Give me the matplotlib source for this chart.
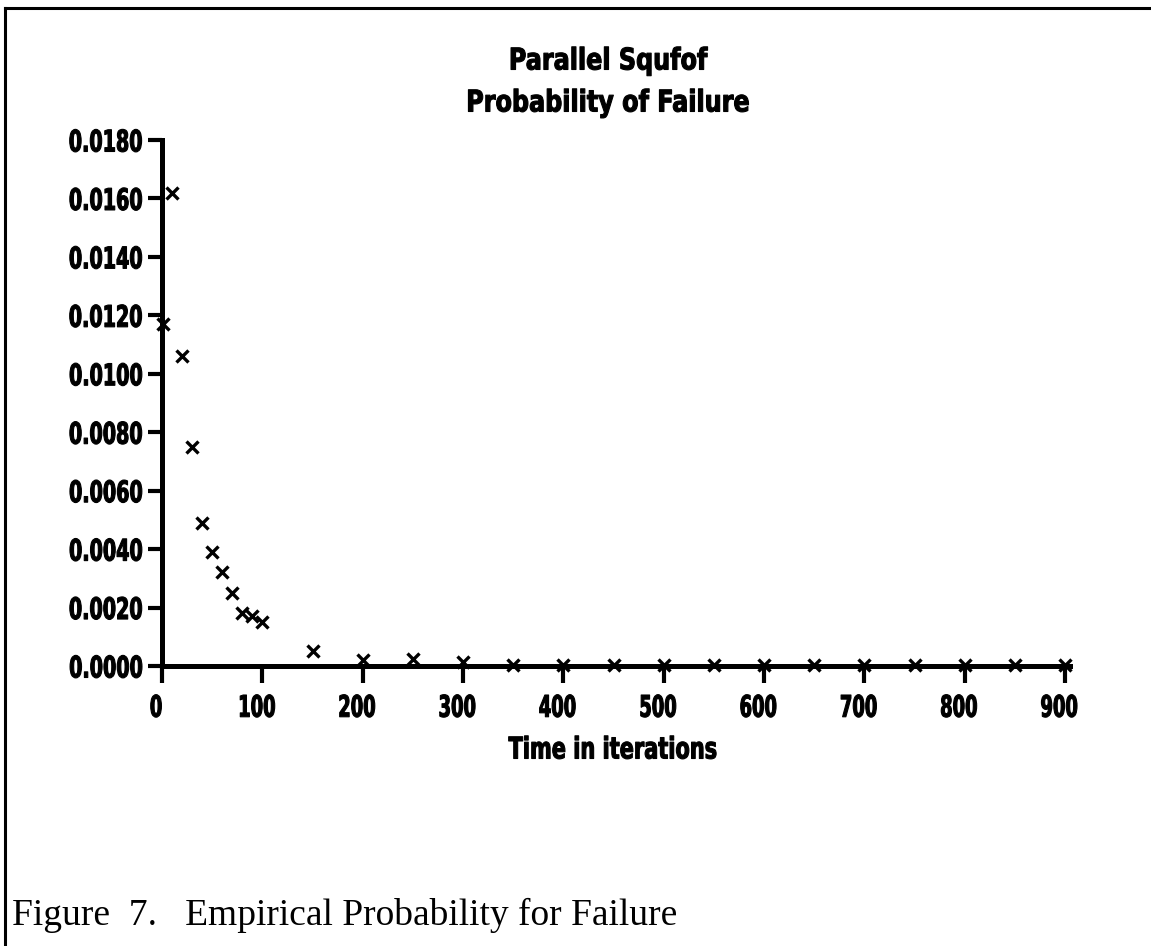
import matplotlib
matplotlib.use("Agg")
import matplotlib.pyplot as plt
from matplotlib.lines import Line2D
from matplotlib import patheffects
from matplotlib.transforms import Affine2D

iterations = [1, 10, 20, 30, 40, 50, 60, 70, 80, 90, 100, 150, 200, 250, 300,
              350, 400, 450, 500, 550, 600, 650, 700, 750, 800, 850, 900]
prob_failure = [0.0117, 0.0162, 0.0106, 0.0075, 0.0049, 0.0039, 0.0032, 0.0025,
                0.0018, 0.0017, 0.0015, 0.0005, 0.0002, 0.00025, 0.00014,
                0.00004, 0.00003, 0.00002, 0.00003, 0.00003, 0.00003, 0.00003,
                0.00003, 0.00003, 0.00002, 0.00003, 0.00002]
x_ticks = [0, 100, 200, 300, 400, 500, 600, 700, 800, 900]
y_ticks = [0.0, 0.002, 0.004, 0.006, 0.008, 0.010, 0.012, 0.014, 0.016, 0.018]
y_tick_labels = ["%.4f" % v for v in y_ticks]
title_lines = ["Parallel Squfof", "Probability of Failure"]
xlabel_text = "Time in iterations"
caption_text = "Figure  7.   Empirical Probability for Failure"


class Squeeze(patheffects.AbstractPathEffect):
    """Compress glyph outlines horizontally (narrow plotter-style lettering)."""

    def __init__(self, sx, anchor="center", dx=0.0, stroke=0.8):
        super().__init__()
        self.sx = sx
        self.anchor = anchor
        self.dx = dx
        self.stroke = stroke

    def draw_path(self, renderer, gc, tpath, affine, rgbFace=None):
        ext = affine.transform_path(tpath).get_extents()
        if self.anchor == "right":
            cx = ext.x1
        elif self.anchor == "left":
            cx = ext.x0
        else:
            cx = 0.5 * (ext.x0 + ext.x1)
        squeeze = (Affine2D().translate(-cx, 0).scale(self.sx, 1.0)
                   .translate(cx + self.dx, 0))
        gc0 = renderer.new_gc()
        gc0.copy_properties(gc)
        gc0.set_linewidth(self.stroke)
        gc0.set_foreground("black")
        renderer.draw_path(gc0, tpath, affine + squeeze, rgbFace)
        gc0.restore()


FONT = "DejaVu Sans"
W, H = 1151, 946

fig = plt.figure(figsize=(11.51, 9.46), dpi=100)
ax = fig.add_axes([162 / W, (H - 666) / H, 903 / W, 526 / H])
ax.set_xlim(0, 900)
ax.set_ylim(0, 0.018)

ax.plot(iterations, prob_failure, linestyle="none", marker="x", color="black",
        markersize=8, markeredgewidth=2.4, clip_on=False, zorder=5)

for s in ["top", "right"]:
    ax.spines[s].set_visible(False)
ax.spines["left"].set_linewidth(3.6)
ax.spines["bottom"].set_linewidth(3.6)
ax.spines["bottom"].set_bounds(0, 905)

ax.set_xticks(x_ticks)
ax.set_xticklabels([str(v) for v in x_ticks])
ax.set_yticks(y_ticks)
ax.set_yticklabels(y_tick_labels)
ax.tick_params(axis="x", direction="out", length=12, width=3.0, pad=8)
ax.tick_params(axis="y", direction="out", length=10, width=3.0, pad=4)
for lab in ax.get_xticklabels():
    lab.set_family(FONT)
    lab.set_fontweight("bold")
    lab.set_fontsize(21.5)
    lab.set_path_effects([Squeeze(0.6, "center", dx=-6)])
for lab in ax.get_yticklabels():
    lab.set_family(FONT)
    lab.set_fontweight("bold")
    lab.set_fontsize(21.5)
    lab.set_path_effects([Squeeze(0.64, "right")])

# x-axis label
fig.text(613 / W, 1 - 750 / H, xlabel_text, ha="center", va="center",
         family=FONT, fontweight="bold", fontsize=21.5,
         path_effects=[Squeeze(0.7, "center")])

# title (two lines)
for line, ypix in zip(title_lines, [61, 103]):
    fig.text(608 / W, 1 - ypix / H, line, ha="center", va="center",
             family=FONT, fontweight="bold", fontsize=21.5,
             path_effects=[Squeeze(0.8, "center")])

# caption
fig.text(12 / W, 1 - 925 / H, caption_text, ha="left", va="baseline",
         family=["Liberation Serif", "DejaVu Serif"], fontsize=27)

# page frame lines (left and top)
fig.add_artist(Line2D([5 / W, 5 / W], [0, 1 - 8 / H], transform=fig.transFigure,
                      color="black", linewidth=2.2))
fig.add_artist(Line2D([5 / W, 1], [1 - 8 / H, 1 - 8 / H], transform=fig.transFigure,
                      color="black", linewidth=2.2))

fig.savefig("out.png", dpi=100, facecolor="white")
